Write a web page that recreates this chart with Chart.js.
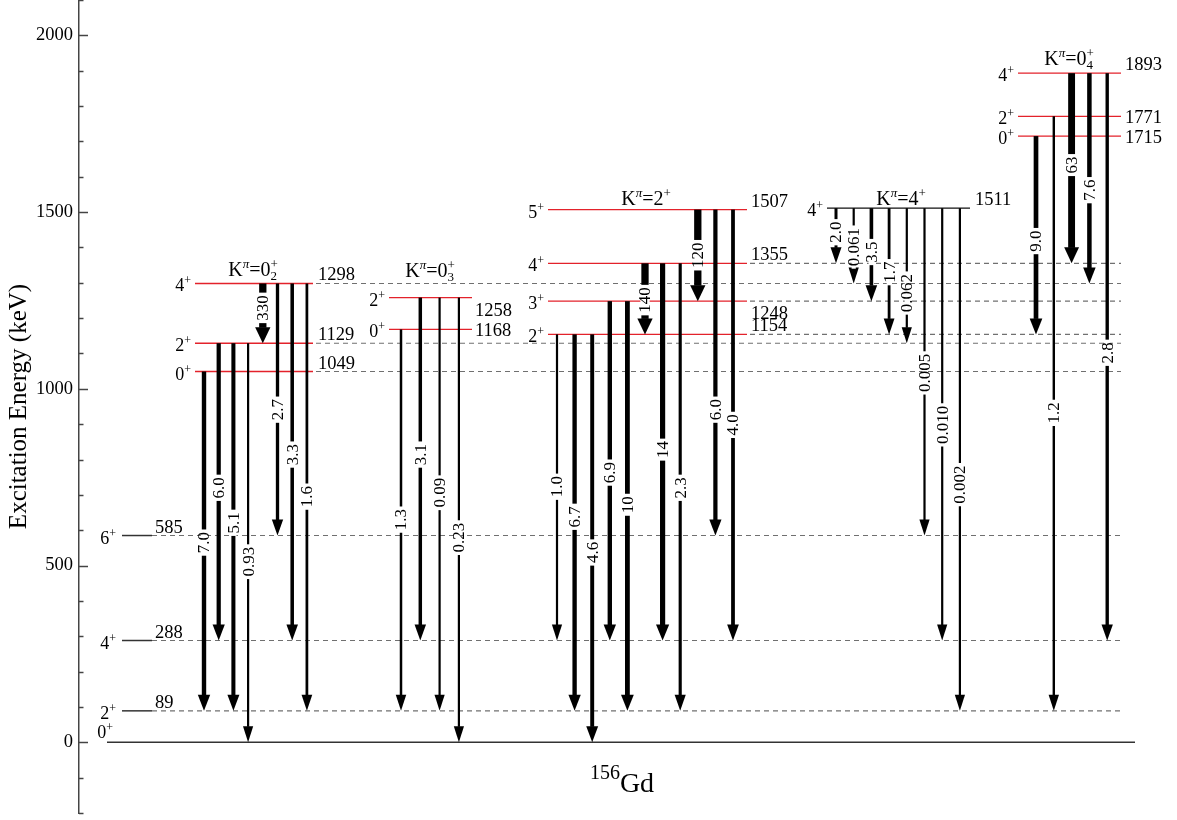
<!DOCTYPE html>
<html>
<head>
<meta charset="utf-8">
<script src="https://cdn.jsdelivr.net/npm/chart.js@4.4.1/dist/chart.umd.min.js"></script>
<style>html,body{margin:0;padding:0;background:#fff}canvas{display:block}</style>
</head>
<body>
<canvas id="scheme" width="1177" height="820"></canvas>
<script>
// 156Gd level scheme: bands, levels and E2 transitions.
const SERIF = "'Liberation Serif','Times New Roman',serif";
const RED = '#e3222b', INK = '#000', DASH = '#707070', AXIS = '#444';

// levels (keV) and spins, band by band
const gsE  = [0, 89, 288, 585];          const gsJ  = [0, 2, 4, 6];
const b02E = [1049, 1129, 1298];         const b02J = [0, 2, 4];
const b03E = [1168, 1258];               const b03J = [0, 2];
const gamE = [1154, 1248, 1355, 1507];   const gamJ = [2, 3, 4, 5];
const b4E  = [1511];                     const b4J  = [4];
const b04E = [1715, 1771, 1893];         const b04J = [0, 2, 4];

// transitions: initial level, final level, value written on the arrow
const b02From = [1049, 1129, 1129, 1129, 1298, 1298, 1298, 1298];
const b02To   = [89, 288, 89, 0, 1129, 585, 288, 89];
const b02Val  = ['7.0', '6.0', '5.1', '0.93', '330', '2.7', '3.3', '1.6'];
const b03From = [1168, 1258, 1258, 1258];
const b03To   = [89, 288, 89, 0];
const b03Val  = ['1.3', '3.1', '0.09', '0.23'];
const gamFrom = [1154, 1154, 1154, 1248, 1248, 1355, 1355, 1355, 1507, 1507, 1507];
const gamTo   = [288, 89, 0, 288, 89, 1154, 288, 89, 1248, 585, 288];
const gamVal  = ['1.0', '6.7', '4.6', '6.9', '10', '140', '14', '2.3', '120', '6.0', '4.0'];
const b4From  = [1511, 1511, 1511, 1511, 1511, 1511, 1511, 1511];
const b4To    = [1355, 1298, 1248, 1154, 1129, 585, 288, 89];
const b4Val   = ['2.0', '0.061', '3.5', '1.7', '0.062', '0.005', '0.010', '0.002'];
const b04From = [1715, 1771, 1893, 1893, 1893];
const b04To   = [1154, 89, 1355, 1298, 288];
const b04Val  = ['9.0', '1.2', '63', '7.6', '2.8'];

const Y_MIN = -200, Y_MAX = 2100, Y_STEP = 100, Y_MAJOR = 500;

// layout: x in plot units (= px), label heights along arrows in keV
const bands = [
  {E: b02E, J: b02J, from: b02From, to: b02To, val: b02Val, tag: ['0', '2'],
   x0: 195, x1: 313, ax: 204, step: 14.7, color: RED, dashFrom: 316, dashed: [1049, 1129, 1298],
   lab: [565, 720, 621, 511, 1229, 941, 814, 695], eLab: ['up', 'up', 'up'], eX: 318, tagX: 253, tagDy: -7.5},
  {E: b03E, J: b03J, from: b03From, to: b03To, val: b03Val, tag: ['0', '3'],
   x0: 389, x1: 472, ax: 401, step: 19.3, color: RED, dashed: [],
   lab: [630, 814, 706, 579], eLab: ['mid', 'down'], eX: 475, tagX: 430, tagDy: -21},
  {E: gamE, J: gamJ, from: gamFrom, to: gamTo, val: gamVal, tag: ['2', null],
   x0: 548, x1: 747, ax: 557, step: 17.6, color: RED, dashFrom: 750, dashed: [1154, 1248, 1355],
   lab: [723, 638, 537, 763, 672, 1251, 828, 720, 1378, 941, 898], eLab: ['up', 'down', 'up', 'up'], eX: 751, tagX: 646, tagDy: -4.5},
  {E: b4E, J: b4J, from: b4From, to: b4To, val: b4Val, tag: ['4', null],
   x0: 827, x1: 970, ax: 836, step: 17.7, color: '#111', dashed: [],
   lab: [1443, 1401, 1387, 1330, 1271, 1045, 898, 729], eLab: ['up'], eX: 975, tagX: 901, tagDy: -3},
  {E: b04E, J: b04J, from: b04From, to: b04To, val: b04Val, tag: ['0', '4'],
   x0: 1018, x1: 1121, ax: 1036, step: 17.8, color: RED, dashed: [],
   lab: [1418, 932, 1633, 1562, 1102], eLab: ['mid', 'mid', 'up'], eX: 1125, tagX: 1069, tagDy: -8}
];
const DASH_END = 1121;

function seg(x0, x1, e, color, width, dash, order) {
  return {data: [{x: x0, y: e}, {x: x1, y: e}], showLine: true, pointRadius: 0,
    borderColor: color, borderWidth: width, borderDash: dash || [], order: order};
}

const datasets = [];
// ground band
datasets.push(seg(107, 1135, gsE[0], '#333', 1.5, null, 1));
gsE.slice(1).forEach(e => {
  datasets.push(seg(122, 152, e, '#333', 1.5, null, 1));
  datasets.push(seg(152, DASH_END, e, DASH, 1.2, [5, 4], 2));
});
bands.forEach(b => {
  b.E.forEach(e => datasets.push(seg(b.x0, b.x1, e, b.color, 1.3, null, 1)));
  b.dashed.forEach(e => datasets.push(seg(b.dashFrom, DASH_END, e, DASH, 1.2, [5, 4], 2)));
});

// text with super/subscripts: [text, size, rise, italic, sameXasPrevious]
function rich(ctx, parts, x, y, align) {
  let w = 0, prev = 0;
  const starts = parts.map(p => {
    ctx.font = (p[3] ? 'italic ' : '') + p[1] + 'px ' + SERIF;
    const tw = ctx.measureText(p[0]).width;
    const s = p[4] ? prev : w;
    w = Math.max(w, s + tw);
    prev = s;
    return s;
  });
  const ox = align === 'center' ? x - w / 2 : align === 'right' ? x - w : x;
  ctx.textAlign = 'left';
  ctx.textBaseline = 'alphabetic';
  ctx.fillStyle = INK;
  parts.forEach((p, i) => {
    ctx.font = (p[3] ? 'italic ' : '') + p[1] + 'px ' + SERIF;
    ctx.fillText(p[0], ox + starts[i], y - (p[2] || 0));
  });
}

// arrow thickness grows with the log of the value
function shaftWidth(v) {
  return Math.min(7.3, Math.max(2.2, 2.2 + 2.6 * Math.log10(parseFloat(v))));
}

const axisTicks = {
  id: 'axisTicks',
  afterDraw(chart) {
    const {ctx, chartArea, scales: {y}} = chart;
    ctx.save();
    ctx.strokeStyle = AXIS;
    ctx.lineWidth = 1.5;
    y.ticks.forEach(t => {
      const py = Math.round(y.getPixelForValue(t.value)) + 0.5;
      const len = t.value % Y_MAJOR === 0 ? 9 : 4.5;
      ctx.beginPath();
      ctx.moveTo(chartArea.left, py);
      ctx.lineTo(chartArea.left + len, py);
      ctx.stroke();
    });
    ctx.restore();
  }
};

const scheme = {
  id: 'scheme',
  afterDatasetsDraw(chart) {
    const {ctx, scales: {x, y}} = chart;
    ctx.save();
    // arrows
    bands.forEach(b => b.from.forEach((f, i) => {
      const px = x.getPixelForValue(b.ax + i * b.step);
      const y0 = y.getPixelForValue(f), y1 = y.getPixelForValue(b.to[i]);
      const w = shaftWidth(b.val[i]), hl = 16, hw = 8 + w;
      ctx.fillStyle = INK;
      ctx.fillRect(px - w / 2, y0, w, y1 - hl - y0 + 0.5);
      ctx.beginPath();
      ctx.moveTo(px - hw / 2, y1 - hl);
      ctx.lineTo(px + hw / 2, y1 - hl);
      ctx.lineTo(px, y1);
      ctx.closePath();
      ctx.fill();
      // value written across the shaft
      const ly = y.getPixelForValue(b.lab[i]);
      ctx.save();
      ctx.translate(px, ly);
      ctx.rotate(-Math.PI / 2);
      ctx.font = '17px ' + SERIF;
      const tw = ctx.measureText(b.val[i]).width;
      ctx.fillStyle = '#fff';
      ctx.fillRect(-tw / 2 - 2.5, -w / 2 - 1, tw + 5, w + 2);
      ctx.fillStyle = INK;
      ctx.textAlign = 'center';
      ctx.textBaseline = 'middle';
      ctx.fillText(b.val[i], 0, 1);
      ctx.restore();
    }));

    // ground band labels
    gsE.forEach((e, i) => {
      const py = y.getPixelForValue(e);
      if (e === 0) {
        rich(ctx, [[String(gsJ[i]), 18, 0], ['+', 12, 7]], 113, py - 4, 'right');
        return;
      }
      rich(ctx, [[String(gsJ[i]), 18, 0], ['+', 12, 7]], 116, py + 8, 'right');
      rich(ctx, [[String(e), 18.5, 0]], 155, py - 3, 'left');
    });

    // band levels: spins, energies, K tags
    bands.forEach(b => {
      b.E.forEach((e, i) => {
        const py = y.getPixelForValue(e);
        rich(ctx, [[String(b.J[i]), 18, 0], ['+', 12, 7]], x.getPixelForValue(b.x0) - 4, py + 8, 'right');
        const dy = b.eLab[i] === 'up' ? -3 : b.eLab[i] === 'down' ? 18 : 7;
        rich(ctx, [[String(e), 18.5, 0]], x.getPixelForValue(b.eX), py + dy, 'left');
      });
      const top = y.getPixelForValue(Math.max(...b.E));
      const parts = [['K', 20, 0], ['\u03c0', 13, 8, true], ['=' + b.tag[0], 20, 0]];
      if (b.tag[1]) parts.push([b.tag[1], 13, -4], ['+', 13, 8, false, true]);
      else parts.push(['+', 13, 8]);
      rich(ctx, parts, x.getPixelForValue(b.tagX), top + b.tagDy, 'center');
    });

    // nucleus
    rich(ctx, [['156', 20, 13], ['Gd', 28, 0]], x.getPixelForValue(622), y.getPixelForValue(-140), 'center');
    ctx.restore();
  }
};

new Chart(document.getElementById('scheme'), {
  type: 'scatter',
  data: {datasets: datasets},
  options: {
    animation: false,
    responsive: false,
    devicePixelRatio: 1,
    events: [],
    layout: {padding: {left: 0, right: 0, top: 0, bottom: 7}},
    plugins: {legend: {display: false}, tooltip: {enabled: false}},
    scales: {
      x: {type: 'linear', min: 79, max: 1177, display: false},
      y: {
        min: Y_MIN, max: Y_MAX,
        ticks: {stepSize: Y_STEP, autoSkip: false, padding: 6, color: INK,
          font: {family: SERIF, size: 18.5},
          callback: v => v % Y_MAJOR === 0 ? String(v) : ''},
        grid: {display: false, drawTicks: false},
        border: {display: true, color: AXIS, width: 1.5},
        title: {display: true, text: 'Excitation Energy (keV)', color: INK,
          font: {family: SERIF, size: 25}},
        afterFit: s => { s.width = 79; s.paddingTop = 0; s.paddingBottom = 0; }
      }
    }
  },
  plugins: [axisTicks, scheme]
});
</script>
</body>
</html>
